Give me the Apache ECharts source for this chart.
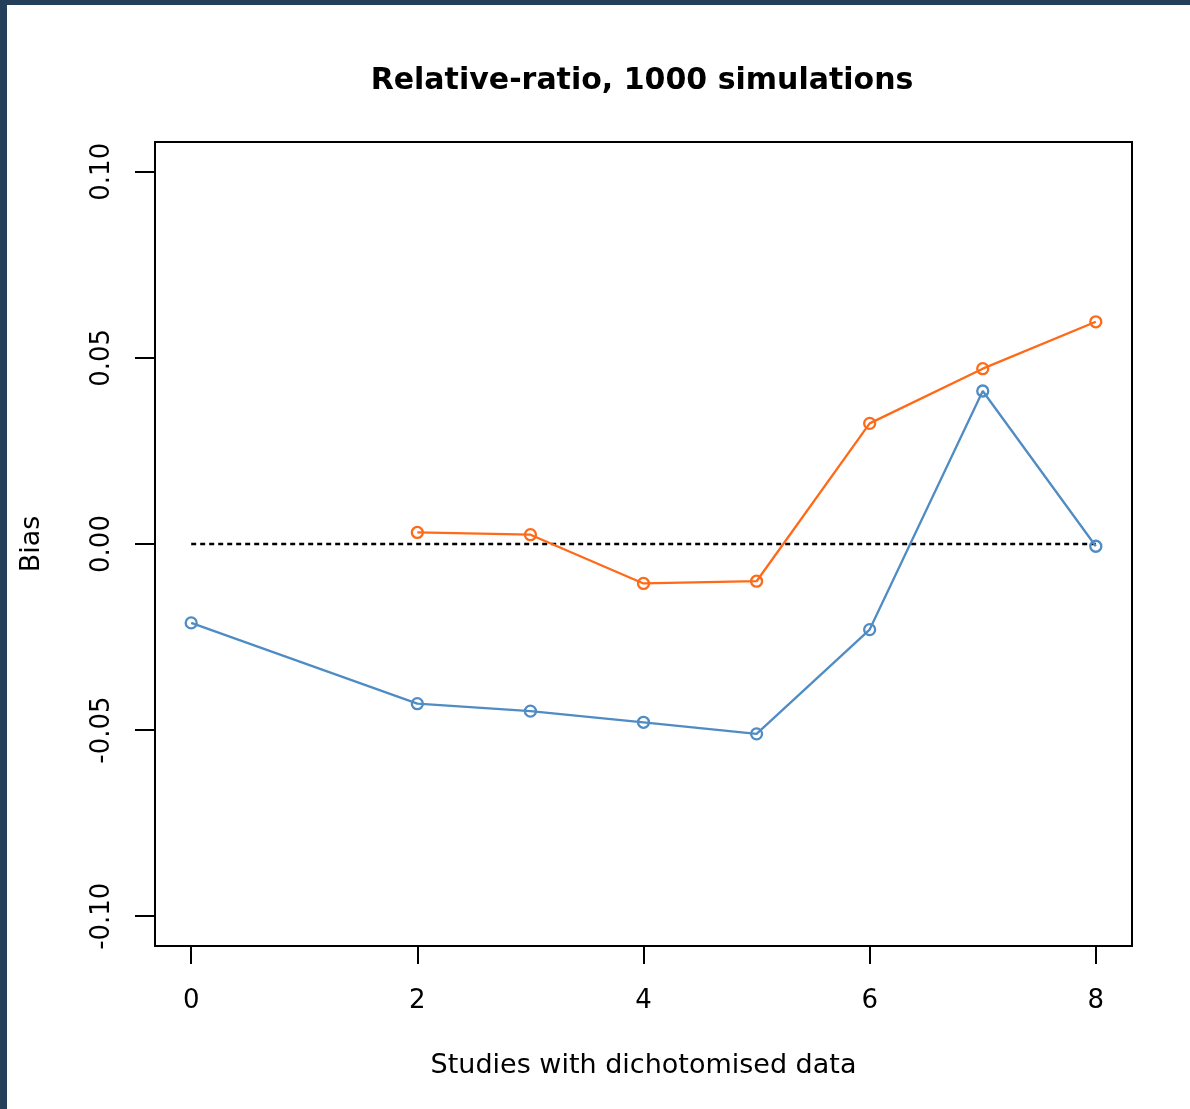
<!DOCTYPE html>
<html>
<head>
<meta charset="utf-8">
<title>Relative-ratio, 1000 simulations</title>
<script src="https://cdn.jsdelivr.net/npm/echarts@6/dist/echarts.min.js"></script>
<style>
  html, body { margin: 0; padding: 0; background: #ffffff; }
  #chart { width: 1190px; height: 1109px; }
</style>
</head>
<body>
<div id="chart"></div>
<script>
// Number of studies with dichotomised data
const studies = [0, 2, 3, 4, 5, 6, 7, 8];
// Bias for each method (null where no value exists)
const biasBlue   = [-0.0212, -0.0429, -0.0449, -0.0479, -0.0510, -0.0230, 0.0411, -0.0006];
const biasOrange = [null, 0.0031, 0.0025, -0.0106, -0.0100, 0.0324, 0.0471, 0.0597];
// Zero-bias reference line
const refX = [0, 8];
const refY = [0, 0];
// Tick positions and labels
const xTicks = [0, 2, 4, 6, 8];
const yTicks = [-0.10, -0.05, 0.00, 0.05, 0.10];
const yTickLabels = ['-0.10', '-0.05', '0.00', '0.05', '0.10'];

const pairs = (xs, ys) => xs.map((x, i) => [x, ys[i] === null ? '-' : ys[i]]);

const axisFont = 'DejaVu Sans';
const chart = echarts.init(document.getElementById('chart'), null, { renderer: 'canvas' });

chart.setOption({
  backgroundColor: '#ffffff',
  animation: false,
  title: {
    text: 'Relative-ratio, 1000 simulations',
    left: 637,
    top: 76,
    textAlign: 'center',
    textVerticalAlign: 'middle',
    textStyle: { fontFamily: axisFont, fontWeight: 'bold', fontSize: 30, color: '#000' }
  },
  graphic: [
    { type: 'rect', left: 0, top: 0, shape: { width: 7, height: 1109 }, style: { fill: '#233f5a' }, z: 100 },
    { type: 'rect', left: 0, top: 0, shape: { width: 1190, height: 5 }, style: { fill: '#233f5a' }, z: 100 }
  ],
  grid: {
    left: 155, right: 58, top: 142, bottom: 163,
    show: true, borderColor: '#000', borderWidth: 2, backgroundColor: 'transparent'
  },
  xAxis: {
    type: 'value',
    min: -0.32, max: 8.32,
    name: 'Studies with dichotomised data',
    nameLocation: 'middle',
    nameGap: 106,
    nameTextStyle: { fontFamily: axisFont, fontSize: 27, color: '#000' },
    axisLine: { show: false, onZero: false },
    splitLine: { show: false },
    axisTick: { show: true, length: 18, inside: false, customValues: xTicks, lineStyle: { color: '#000', width: 2 } },
    axisLabel: { customValues: xTicks, margin: 42, fontFamily: axisFont, fontSize: 26, color: '#000' }
  },
  yAxis: {
    type: 'value',
    min: -0.108, max: 0.108,
    name: 'Bias',
    nameLocation: 'middle',
    nameRotate: 90,
    nameGap: 110,
    nameTextStyle: { fontFamily: axisFont, fontSize: 27, color: '#000' },
    axisLine: { show: false, onZero: false },
    splitLine: { show: false },
    axisTick: { show: true, length: 20, inside: false, customValues: yTicks, lineStyle: { color: '#000', width: 2 } },
    axisLabel: {
      customValues: yTicks, rotate: 90, margin: 40,
      fontFamily: axisFont, fontSize: 26, color: '#000',
      formatter: v => {
        const i = yTicks.findIndex(t => Math.abs(t - v) < 1e-9);
        return i >= 0 ? yTickLabels[i] : '';
      }
    }
  },
  series: [
    {
      name: 'reference',
      type: 'line',
      data: pairs(refX, refY),
      symbol: 'none',
      lineStyle: { color: '#000', width: 2.3, type: [5, 4] },
      z: 1
    },
    {
      name: 'blue',
      type: 'line',
      data: pairs(studies, biasBlue),
      symbol: 'circle',
      symbolSize: 11,
      itemStyle: { color: 'rgba(0,0,0,0)', borderColor: '#4f8cc4', borderWidth: 2.3 },
      lineStyle: { color: '#4f8cc4', width: 2.3 },
      z: 2
    },
    {
      name: 'orange',
      type: 'line',
      data: pairs(studies, biasOrange),
      connectNulls: false,
      symbol: 'circle',
      symbolSize: 11,
      itemStyle: { color: 'rgba(0,0,0,0)', borderColor: '#ff6a19', borderWidth: 2.3 },
      lineStyle: { color: '#ff6a19', width: 2.3 },
      z: 3
    }
  ]
});
</script>
</body>
</html>
